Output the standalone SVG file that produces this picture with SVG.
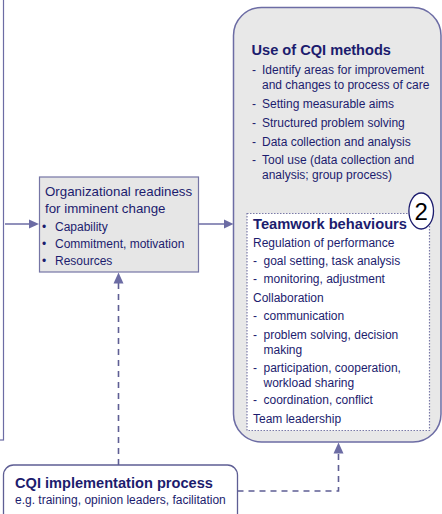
<svg xmlns="http://www.w3.org/2000/svg" width="442" height="514" viewBox="0 0 442 514">
<style>
text{font-family:"Liberation Sans",Arial,sans-serif;fill:#1c1c6e}
.b{font-weight:bold}
.t{font-size:12px}
.line{stroke:#6c6ca4;stroke-width:1.5;fill:none}
.dash{stroke:#5e5e94;stroke-width:1.6;fill:none;stroke-dasharray:6,5}
.head{fill:#6c6ca4}
</style>
<rect width="442" height="514" fill="#ffffff"/>
<g id="left-box">
<rect x="-20" y="-20" width="23.5" height="460" fill="#ffffff" stroke="#6c6ca4" stroke-width="1.2"/>
</g>
<g id="cqi-methods">
<rect x="233.5" y="7.5" width="207.5" height="434.5" rx="28" ry="28" fill="#e8e8e8" stroke="#6c6ca4" stroke-width="1.5"/>
<text x="251.5" y="55" class="b" font-size="14.6px">Use of CQI methods</text>
<g class="t">
<text x="252" y="74">-</text><text x="262" y="74">Identify areas for improvement</text>
<text x="262" y="88.5">and changes to process of care</text>
<text x="252" y="107.5">-</text><text x="262" y="107.5">Setting measurable aims</text>
<text x="252" y="126.5">-</text><text x="262" y="126.5">Structured problem solving</text>
<text x="252" y="145.5">-</text><text x="262" y="145.5">Data collection and analysis</text>
<text x="252" y="164">-</text><text x="262" y="164">Tool use (data collection and</text>
<text x="262" y="178.5">analysis; group process)</text>
</g>
</g>
<g id="teamwork">
<rect x="247" y="213.5" width="182.5" height="217" fill="#ffffff" stroke="#7a7aa8" stroke-width="1.2" stroke-dasharray="1.5,1.5"/>
<text x="253" y="228.5" class="b" font-size="14.7px">Teamwork behaviours</text>
<g class="t">
<text x="253" y="246.5">Regulation of performance</text>
<text x="253" y="265">-</text><text x="263.5" y="265">goal setting, task analysis</text>
<text x="253" y="282.5">-</text><text x="263.5" y="282.5">monitoring, adjustment</text>
<text x="253" y="301.5">Collaboration</text>
<text x="253" y="320">-</text><text x="263.5" y="320">communication</text>
<text x="253" y="338.5">-</text><text x="263.5" y="338.5">problem solving, decision</text>
<text x="263.5" y="353.5">making</text>
<text x="253" y="371.5">-</text><text x="263.5" y="371.5">participation, cooperation,</text>
<text x="263.5" y="386.5">workload sharing</text>
<text x="253" y="404">-</text><text x="263.5" y="404">coordination, conflict</text>
<text x="253" y="422.5">Team leadership</text>
</g>
</g>
<g id="badge-2">
<ellipse cx="421.2" cy="211" rx="12.3" ry="18" fill="#ffffff" stroke="#1c1c6e" stroke-width="1.3"/>
<text x="421.2" y="220" font-size="24px" text-anchor="middle" style="fill:#000000">2</text>
</g>
<g id="org-readiness">
<rect x="39.5" y="177" width="159" height="95" fill="#e6e6e6" stroke="#7575a5" stroke-width="1.2"/>
<text x="45" y="196" font-size="13.3px">Organizational readiness</text>
<text x="45" y="212.5" font-size="13.3px">for imminent change</text>
<g class="t">
<text x="42" y="230.5">•</text><text x="55" y="230.5">Capability</text>
<text x="42" y="247.5">•</text><text x="55" y="247.5">Commitment, motivation</text>
<text x="42" y="264.5">•</text><text x="55" y="264.5">Resources</text>
</g>
</g>
<g id="cqi-implementation">
<rect x="3.5" y="465" width="234" height="60" rx="10" ry="10" fill="#ffffff" stroke="#5e5e94" stroke-width="1.3"/>
<text x="15" y="487.5" class="b" font-size="14.6px">CQI implementation process</text>
<text x="15" y="503.5" font-size="12px">e.g. training, opinion leaders, facilitation</text>
</g>
<g id="connectors">
<line class="line" x1="5" y1="224" x2="30" y2="224"/>
<polygon class="head" points="29,219.5 39,224 29,228.5"/>
<line class="line" x1="198.5" y1="224" x2="225" y2="224"/>
<polygon class="head" points="224,219.5 233.5,224 224,228.5"/>
<path class="dash" d="M118.5,465 V283"/>
<polygon class="head" points="113.5,283.5 118.5,272.5 123.5,283.5"/>
<path class="dash" d="M237.5,491 H338.5 V454"/>
<polygon class="head" points="333.5,453.5 338.5,442.5 343.5,453.5"/>
</g>
</svg>
